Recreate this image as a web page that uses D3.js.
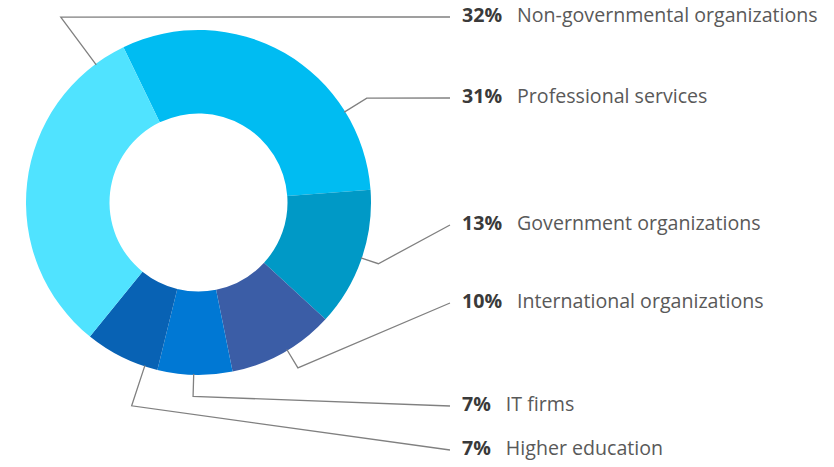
<!DOCTYPE html>
<html>
<head>
<meta charset="utf-8">
<script src="https://cdn.jsdelivr.net/npm/d3@7"></script>
<style>
  html, body { margin: 0; padding: 0; background: #ffffff; }
  svg { display: block; }
</style>
</head>
<body>
<svg id="chart" width="834" height="467"></svg>
<script>
// ---- Data ----
const categories = ["Professional services", "Government organizations", "International organizations", "IT firms", "Higher education", "Non-governmental organizations"];
const shares = [31, 13, 10, 7, 7, 32];
const colors = ["#00BCF2", "#0099C6", "#3B5DA6", "#0078D4", "#0862B4", "#50E3FF"];

// label order (top to bottom on the right)
const labelOrder = ["Non-governmental organizations", "Professional services", "Government organizations", "International organizations", "IT firms", "Higher education"];

// ---- Layout (not data) ----
const cx = 198.5, cy = 202.5;
const rOuter = 172.5, rInner = 89;
const startDeg = -25.8;
const leaderAngle = {"Non-governmental organizations": -36.6, "Professional services": 58.2, "Government organizations": 108.8, "International organizations": 149, "IT firms": 181.6, "Higher education": 198.2};
const elbowR = {"Non-governmental organizations": 231, "Professional services": 198, "Government organizations": 190, "International organizations": 193, "IT firms": 194, "Higher education": 214};
const labelY = {"Non-governmental organizations": 17, "Professional services": 98, "Government organizations": 225, "International organizations": 303, "IT firms": 406, "Higher education": 450};
const lineEndX = 450, pctX = 462, gap = 15, fontSize = 19.6;

const svg = d3.select("#chart");
const g = svg.append("g").attr("transform", `translate(${cx},${cy})`);

const rad = d => d * Math.PI / 180;
const pie = d3.pie().sort(null).value(d => d.v)
  .startAngle(rad(startDeg)).endAngle(rad(startDeg + 360));
const arc = d3.arc().innerRadius(rInner).outerRadius(rOuter);
const data = categories.map((c, i) => ({c, v: shares[i], color: colors[i]}));

g.selectAll("path.slice").data(pie(data)).join("path")
  .attr("class", "slice")
  .attr("d", arc)
  .attr("fill", d => d.data.color);

// leader lines
const pt = (angDeg, r) => [Math.sin(rad(angDeg)) * r + cx, -Math.cos(rad(angDeg)) * r + cy];
const lineGen = d3.line();
svg.selectAll("path.leader").data(data).join("path")
  .attr("class", "leader")
  .attr("fill", "none")
  .attr("stroke", "#808080")
  .attr("stroke-width", 1.3)
  .attr("d", d => {
    const a = leaderAngle[d.c];
    return lineGen([pt(a, rOuter - 1), pt(a, elbowR[d.c]), [lineEndX, labelY[d.c]]]);
  });

// labels
const lab = svg.selectAll("g.lab").data(data).join("g").attr("class", "lab")
  .attr("transform", d => `translate(0,${labelY[d.c] - 1.5})`);
lab.append("text")
  .attr("class", "pct")
  .attr("x", pctX).attr("dy", "0.35em")
  .attr("font-family", "'Open Sans', sans-serif")
  .attr("font-size", fontSize).attr("font-weight", 700)
  .attr("fill", "#3a3a3a")
  .text(d => d.v + "%");
lab.append("text")
  .attr("x", function() {
    const p = d3.select(this.parentNode).select("text.pct").node();
    return pctX + p.getComputedTextLength() + gap;
  })
  .attr("dy", "0.35em")
  .attr("font-family", "'Open Sans', sans-serif")
  .attr("font-size", fontSize)
  .attr("fill", "#595959")
  .text(d => d.c);
</script>
</body>
</html>
